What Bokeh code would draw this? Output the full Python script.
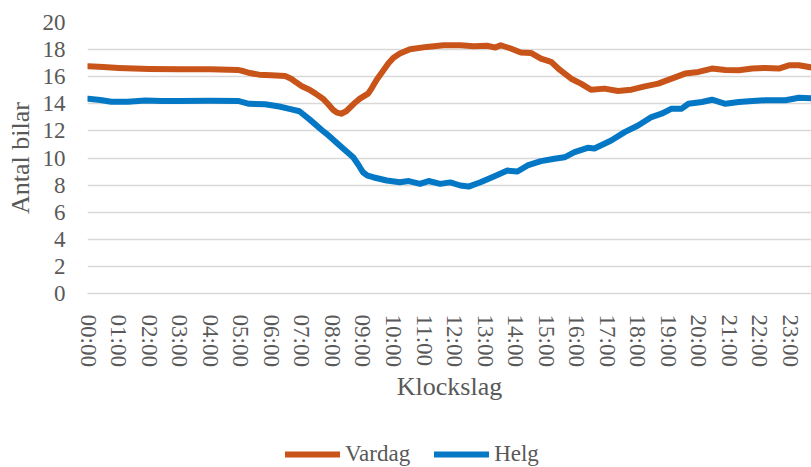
from bokeh.plotting import figure
from bokeh.layouts import column
from bokeh.models import Range1d, FixedTicker, Legend, LegendItem
from bokeh.embed import file_html
from bokeh.resources import INLINE

# Hours of day (decimal) and average number of cars
vardag_t = [0.0, 0.5, 1.0, 1.5, 2.0, 3.0, 4.0, 4.9, 5.1, 5.3, 5.6, 6.0, 6.45, 6.65, 6.8,
            7.0, 7.25, 7.45, 7.69, 7.85, 8.02, 8.15, 8.29, 8.45, 8.57, 8.75, 8.9, 9.17,
            9.3, 9.45, 9.65, 9.83, 10.0, 10.21, 10.54, 11.09, 11.64, 12.19, 12.63, 13.07,
            13.34, 13.51, 13.84, 14.17, 14.5, 14.83, 15.16, 15.45, 15.82, 16.14, 16.47,
            16.91, 17.35, 17.79, 18.23, 18.67, 19.11, 19.55, 19.99, 20.43, 20.87, 21.31,
            21.75, 22.18, 22.62, 22.95, 23.28, 23.72]
vardag_v = [16.77, 16.72, 16.65, 16.6, 16.57, 16.55, 16.55, 16.5, 16.4, 16.27, 16.15, 16.1,
            16.05, 15.85, 15.6, 15.3, 15.04, 14.75, 14.38, 14.0, 13.56, 13.35, 13.27, 13.45,
            13.71, 14.1, 14.38, 14.75, 15.2, 15.78, 16.4, 16.97, 17.4, 17.71, 18.02, 18.2,
            18.32, 18.32, 18.25, 18.28, 18.15, 18.32, 18.08, 17.78, 17.75, 17.34, 17.1,
            16.5, 15.85, 15.49, 15.04, 15.12, 14.94, 15.04, 15.29, 15.49, 15.86, 16.23,
            16.35, 16.6, 16.5, 16.47, 16.6, 16.65, 16.6, 16.84, 16.84, 16.67]

helg_t = [0.0, 0.4, 0.76, 1.3, 1.87, 2.4, 2.97, 4.0, 4.94, 5.27, 5.8, 6.26, 6.59, 6.92,
          7.25, 7.67, 7.8, 8.24, 8.68, 8.85, 9.0, 9.15, 9.33, 9.78, 10.21, 10.5, 10.87,
          11.15, 11.53, 11.86, 12.19, 12.46, 12.85, 13.29, 13.73, 14.06, 14.39, 14.83,
          15.27, 15.6, 15.93, 16.36, 16.58, 17.13, 17.57, 18.01, 18.45, 18.78, 19.11,
          19.44, 19.66, 20.1, 20.43, 20.87, 21.31, 21.75, 22.18, 22.84, 23.28, 23.72]
helg_v = [14.38, 14.28, 14.15, 14.15, 14.25, 14.2, 14.2, 14.22, 14.2, 14.0, 13.97, 13.8,
          13.63, 13.45, 12.85, 12.03, 11.8, 10.92, 10.06, 9.5, 8.95, 8.7, 8.58, 8.34, 8.21,
          8.3, 8.09, 8.3, 8.09, 8.2, 7.97, 7.89, 8.21, 8.63, 9.07, 9.0, 9.45, 9.77, 9.94,
          10.05, 10.43, 10.75, 10.7, 11.29, 11.91, 12.4, 13.02, 13.27, 13.64, 13.64, 14.0,
          14.13, 14.3, 14.0, 14.13, 14.2, 14.26, 14.26, 14.45, 14.4]

hour_ticks = list(range(24))
hour_labels = ["%02d:00" % h for h in hour_ticks]
y_ticks = list(range(0, 21, 2))

FONT = "Liberation Serif"
GRAY = "#595959"
ORANGE = "#C9541A"
BLUE = "#0478C4"

p = figure(width=811, height=417, output_backend="svg", toolbar_location=None,
           x_range=Range1d(-0.02, 23.69), y_range=Range1d(0, 20),
           min_border_left=87, min_border_right=0, min_border_top=22, min_border_bottom=124)
p.outline_line_color = None

p.line(vardag_t, vardag_v, line_color=ORANGE, line_width=6, line_join="round", line_cap="round")
p.line(helg_t, helg_v, line_color=BLUE, line_width=6, line_join="round", line_cap="round")

p.xgrid.grid_line_color = None
p.ygrid.grid_line_color = "#D9D9D9"
p.ygrid.grid_line_width = 1.5
p.ygrid.ticker = FixedTicker(ticks=y_ticks)

p.yaxis.ticker = FixedTicker(ticks=y_ticks)
p.yaxis.axis_line_color = None
p.yaxis.major_tick_line_color = None
p.yaxis.minor_tick_line_color = None
p.yaxis.major_label_standoff = 16
p.yaxis.major_label_text_font = FONT
p.yaxis.major_label_text_font_size = "23px"
p.yaxis.major_label_text_color = GRAY
p.yaxis.axis_label = "Antal bilar"
p.yaxis.axis_label_text_font = FONT
p.yaxis.axis_label_text_font_size = "26px"
p.yaxis.axis_label_text_font_style = "normal"
p.yaxis.axis_label_text_color = GRAY
p.yaxis.axis_label_standoff = 5

p.xaxis.ticker = FixedTicker(ticks=hour_ticks)
p.xaxis.major_label_overrides = {t: lab for t, lab in zip(hour_ticks, hour_labels)}
p.xaxis.major_label_orientation = "vertical"
p.xaxis.axis_line_color = "#D9D9D9"
p.xaxis.axis_line_width = 1.5
p.xaxis.major_tick_line_color = None
p.xaxis.minor_tick_line_color = None
p.xaxis.major_label_standoff = 15
p.xaxis.major_label_text_font = FONT
p.xaxis.major_label_text_font_size = "23px"
p.xaxis.major_label_text_color = GRAY
p.xaxis.axis_label = "Klockslag"
p.xaxis.axis_label_text_font = FONT
p.xaxis.axis_label_text_font_size = "26px"
p.xaxis.axis_label_text_font_style = "normal"
p.xaxis.axis_label_text_color = GRAY
p.xaxis.axis_label_standoff = 2

# Legend strip below the chart
p2 = figure(width=811, height=50, output_backend="svg", toolbar_location=None,
            x_range=Range1d(0, 1), y_range=Range1d(0, 1),
            x_axis_location=None, y_axis_location=None,
            min_border_left=0, min_border_right=0, min_border_top=0, min_border_bottom=0)
p2.outline_line_color = None
p2.xgrid.grid_line_color = None
p2.ygrid.grid_line_color = None
r1 = p2.line([-5, -4], [-5, -4], line_color=ORANGE, line_width=6, line_cap="round")
r2 = p2.line([-5, -4], [-5, -4], line_color=BLUE, line_width=6, line_cap="round")
legend = Legend(items=[LegendItem(label="Vardag", renderers=[r1]),
                       LegendItem(label="Helg", renderers=[r2])],
                orientation="horizontal", location=(198, 0),
                glyph_width=55, glyph_height=20, label_standoff=5, spacing=24,
                padding=0, margin=0, border_line_color=None, background_fill_alpha=0,
                label_text_font=FONT, label_text_font_size="23px", label_text_color=GRAY)
p2.add_layout(legend, "center")

layout = column(p, p2, spacing=0)
open("out.html", "w").write(file_html(layout, INLINE))
